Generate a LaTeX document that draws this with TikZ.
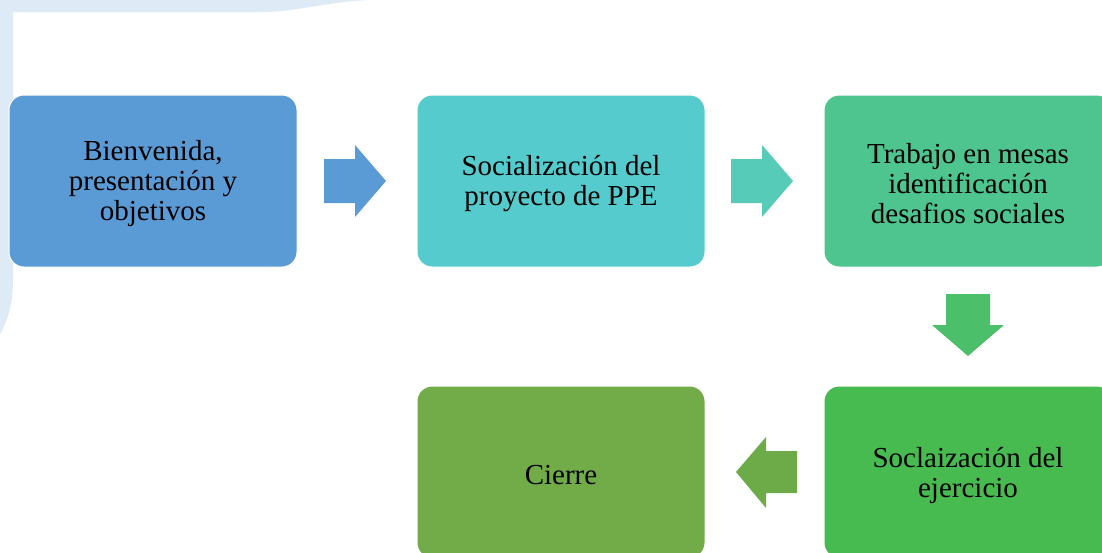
\documentclass[tikz,border=0pt]{standalone}
\usepackage{fontspec}
\setmainfont{Liberation Serif}
\definecolor{bgblue}{HTML}{DEEBF6}
\definecolor{cA}{HTML}{5B9BD5}
\definecolor{cB}{HTML}{55CBCD}
\definecolor{cC}{HTML}{4EC58E}
\definecolor{cD}{HTML}{47BB50}
\definecolor{cE}{HTML}{71AC48}
\definecolor{aB}{HTML}{55CBB8}
\definecolor{aC}{HTML}{4BBF6A}
\definecolor{aE}{HTML}{6DAB49}
\tikzset{
  stepbox/.style={rectangle, rounded corners=15pt, draw=white, line width=1pt,
    minimum width=288pt, minimum height=172pt, inner sep=0pt},
  steptext/.style={align=center, inner sep=0pt, yshift=-3pt,
    font=\fontsize{29}{30}\selectfont, text=black},
}
\begin{document}
\begin{tikzpicture}[x=1pt,y=-1pt]
\useasboundingbox (0,0) rectangle (1102,552);
\fill[white] (0,0) rectangle (1102,552);
% background decoration
\fill[bgblue] (0,0) -- (367,0) .. controls (320,3) and (295,12) .. (262,12)
  -- (13,12) -- (13,280) .. controls (13,305) and (8,318) .. (0,335) -- cycle;
\begin{scope}
\clip (0,0) rectangle (1102,552);
\node[stepbox, fill=cA, label={[steptext]center:{Bienvenida,\\presentación y\\objetivos}}] (b1) at (153,181) {};
\node[stepbox, fill=cB, label={[steptext]center:{Socialización del\\proyecto de PPE}}] (b2) at (561,181) {};
\node[stepbox, fill=cC, label={[steptext]center:{Trabajo en mesas\\identificación\\desafios sociales}}] (b3) at (968,181) {};
\node[stepbox, fill=cD, label={[steptext]center:{Soclaización del\\ejercicio}}] (b4) at (968,472) {};
\node[stepbox, fill=cE, label={[steptext]center:{Cierre}}] (b5) at (561,472) {};
\end{scope}
% block arrows
\fill[cA] (324,159) -- (355,159) -- (355,145) -- (386,181) -- (355,217) -- (355,203) -- (324,203) -- cycle;
\fill[aB] (731,159) -- (762,159) -- (762,145) -- (793,181) -- (762,217) -- (762,203) -- (731,203) -- cycle;
\fill[aC] (946,294) -- (990,294) -- (990,325) -- (1004,325) -- (968,356) -- (932,325) -- (946,325) -- cycle;
\fill[aE] (797,451) -- (766,451) -- (766,437) -- (736,472) -- (766,508) -- (766,493) -- (797,493) -- cycle;
\end{tikzpicture}
\end{document}
